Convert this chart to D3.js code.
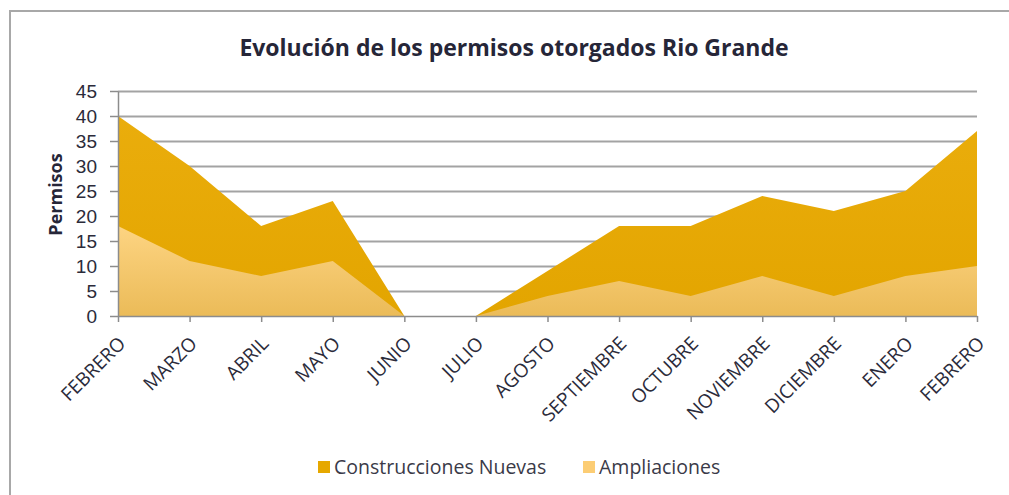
<!DOCTYPE html>
<html>
<head>
<meta charset="utf-8">
<script src="https://cdn.jsdelivr.net/npm/d3@7"></script>
<style>
  body { margin: 0; background: #fff; }
  svg { display: block; font-family: "Open Sans", sans-serif; }
  .grid line { stroke: #a3a3a3; stroke-width: 2; }
  .grid path { display: none; }
  .axis path, .axis line { stroke: #8c8c8c; stroke-width: 1.5; }
  .axis text { fill: #2b2b3a; }
</style>
</head>
<body>
<div id="chart"></div>
<script>
// months on the x axis
const months = ['FEBRERO', 'MARZO', 'ABRIL', 'MAYO', 'JUNIO', 'JULIO', 'AGOSTO',
  'SEPTIEMBRE', 'OCTUBRE', 'NOVIEMBRE', 'DICIEMBRE', 'ENERO', 'FEBRERO '];
const construcciones = [40, 30, 18, 23, 0, 0, 9, 18, 18, 24, 21, 25, 37];
const ampliaciones = [18, 11, 8, 11, 0, 0, 4, 7, 4, 8, 4, 8, 10];
const yTicks = [0, 5, 10, 15, 20, 25, 30, 35, 40, 45];
const seriesNames = ['Construcciones Nuevas', 'Ampliaciones'];

const width = 1009;
const height = 495;
const margin = { top: 91, right: 32, bottom: 179, left: 118 };
const chartWidth = width - margin.left - margin.right;
const chartHeight = height - margin.top - margin.bottom;

const svg = d3.select('#chart')
  .append('svg')
  .attr('width', width)
  .attr('height', height);

const defs = svg.append('defs');
const gradA = defs.append('linearGradient')
  .attr('id', 'gradA').attr('x1', 0).attr('y1', 0).attr('x2', 0).attr('y2', 1);
gradA.append('stop').attr('offset', '0%').attr('stop-color', '#fdd482');
gradA.append('stop').attr('offset', '100%').attr('stop-color', '#ebbb58');

const gradC = defs.append('linearGradient')
  .attr('id', 'gradC').attr('x1', 0).attr('y1', 0).attr('x2', 0).attr('y2', 1);
gradC.append('stop').attr('offset', '0%').attr('stop-color', '#eaad0c');
gradC.append('stop').attr('offset', '100%').attr('stop-color', '#e3a500');

// chart frame (only left and top visible)
svg.append('path')
  .attr('d', `M10,${height} L10,11 L${width},11`)
  .attr('fill', 'none')
  .attr('stroke', '#a8a8a8')
  .attr('stroke-width', 2);

svg.append('text')
  .attr('x', 514)
  .attr('y', 56)
  .attr('text-anchor', 'middle')
  .style('font-size', '23px')
  .style('font-weight', 'bold')
  .attr('fill', '#262638')
  .text('Evolución de los permisos otorgados Rio Grande');

const chart = svg.append('g')
  .attr('transform', `translate(${margin.left},${margin.top})`);

const xScale = d3.scalePoint()
  .domain(months)
  .range([0, chartWidth]);
const yScale = d3.scaleLinear()
  .domain([0, 45])
  .range([chartHeight, 0]);

const yGridlines = d3.axisLeft()
  .scale(yScale)
  .tickValues(yTicks.slice(1))
  .tickSize(-chartWidth)
  .tickFormat('');

chart.append('g')
  .classed('grid', true)
  .call(yGridlines);

const area = (vals) => d3.area()
  .x((d, i) => xScale(months[i]))
  .y0(yScale(0))
  .y1(d => yScale(d))(vals);

chart.append('path')
  .attr('d', area(construcciones))
  .attr('fill', 'url(#gradC)');

chart.append('path')
  .attr('d', area(ampliaciones))
  .attr('fill', 'url(#gradA)');

const xAxis = d3.axisBottom()
  .scale(xScale)
  .tickSize(6)
  .tickSizeOuter(0)
  .tickFormat('');

chart.append('g')
  .classed('axis', true)
  .attr('transform', `translate(0,${chartHeight})`)
  .call(xAxis);

chart.selectAll('.x-label')
  .data(months)
  .enter()
  .append('text')
  .classed('x-label', true)
  .attr('transform', d => `translate(${xScale(d) + 4},${chartHeight + 24}) rotate(-45)`)
  .attr('text-anchor', 'end')
  .attr('dy', '0.35em')
  .attr('fill', '#2b2b3a')
  .style('font-size', '19px')
  .text(d => d.trim());

const yAxis = d3.axisLeft()
  .scale(yScale)
  .tickValues(yTicks)
  .tickSize(8)
  .tickPadding(13)
  .tickSizeOuter(0);

chart.append('g')
  .classed('axis', true)
  .call(yAxis)
  .selectAll('text')
  .style('font-size', '19px');

chart.append('text')
  .attr('transform', `translate(-62,${chartHeight / 2 - 9}) rotate(-90)`)
  .attr('text-anchor', 'middle')
  .attr('dy', '0.35em')
  .style('font-size', '18px')
  .style('font-weight', 'bold')
  .attr('fill', '#262638')
  .text('Permisos');

// legend
const legendX = [318, 583];
const legendFill = ['#e6a800', '#fccd74'];
const legend = svg.selectAll('.legend')
  .data(seriesNames)
  .enter()
  .append('g')
  .classed('legend', true)
  .attr('transform', (d, i) => `translate(${legendX[i]},467)`);

legend.append('rect')
  .attr('x', 0).attr('y', -6)
  .attr('width', 12).attr('height', 12)
  .attr('fill', (d, i) => legendFill[i]);

legend.append('text')
  .attr('x', 16)
  .attr('dy', '0.35em')
  .style('font-size', '19.5px')
  .attr('fill', '#3a3a48')
  .text(d => d);
</script>
</body>
</html>
